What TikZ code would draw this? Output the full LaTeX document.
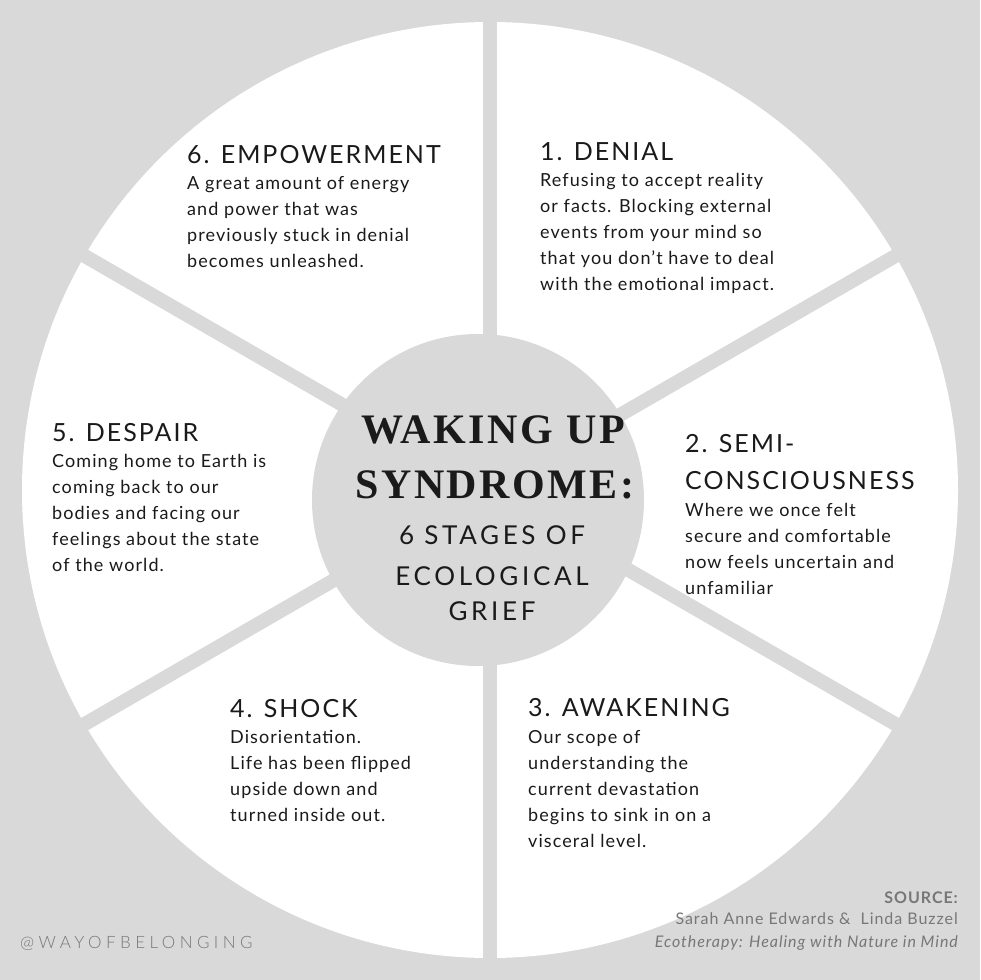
\documentclass[tikz,border=0pt]{standalone}
\usepackage{fontspec}
\setmainfont{Lato}[LetterSpace=6]
\newfontfamily\titlefont[LetterSpace=6]{Liberation Serif}
\newfontfamily\subfont[LetterSpace=14]{Lato}
\newfontfamily\headfont[LetterSpace=8]{Lato}
\newfontfamily\tagfont[LetterSpace=26]{Lato Light}
\definecolor{bg}{HTML}{D9D9D9}
\definecolor{ink}{HTML}{1A1A1A}
\definecolor{src}{HTML}{777777}
\begin{document}
\begin{tikzpicture}[x=1pt,y=-1pt,
  head/.style={anchor=base west,inner sep=0,text=ink,font=\headfont\fontsize{25}{26}\selectfont},
  body/.style={anchor=north west,inner sep=0,text=ink,align=left,font=\fontsize{18}{26}\selectfont},
  gap/.style={draw=bg,line width=14pt}]
\fill[bg] (0,0) rectangle (980,980);
\useasboundingbox (0,0) rectangle (980,980);
\node[circle,fill=white,minimum size=936pt,inner sep=0] (wheel) at (490,490) {};
\coordinate (c) at (490,490);
\foreach \a in {90,30,-30,-90,-150,150}
  \draw[gap] (c) -- ++(\a:-480);
\node[circle,fill=bg,minimum size=332pt,inner sep=0] (hub) at (478,500) {};
% title
\node[anchor=base,inner sep=0,text=ink,font=\titlefont\bfseries\fontsize{42}{42}\selectfont] (t1) at (493,443) {WAKING UP};
\node[anchor=base,inner sep=0,text=ink,font=\titlefont\bfseries\fontsize{42}{42}\selectfont] (t2) at (495,498) {SYNDROME:};
\node[anchor=base,inner sep=0,text=ink,font=\subfont\fontsize{26}{26}\selectfont] (t3) at (492,544) {6 STAGES OF};
\node[anchor=base,inner sep=0,text=ink,font=\subfont\fontsize{26}{26}\selectfont] (t4) at (492,585) {ECOLOGICAL};
\node[anchor=base,inner sep=0,text=ink,font=\subfont\fontsize{26}{26}\selectfont] (t5) at (492,620) {GRIEF};
% sections
\node[head] (h6) at (187,163) {6. EMPOWERMENT};
\node[body] (b6) at (187,176) {A great amount of energy\\and power that was\\previously stuck in denial\\becomes unleashed.};
\node[head] (h1) at (540,160) {1. DENIAL};
\node[body] (b1) at (540,173) {Refusing to accept reality\\or facts. Blocking external\\events from your mind so\\that you don't have to deal\\with the emotional impact.};
\node[head] (h5) at (52,441) {5. DESPAIR};
\node[body] (b5) at (52,454) {Coming home to Earth is\\coming back to our\\bodies and facing our\\feelings about the state\\of the world.};
\node[head] (h2) at (685,452) {2. SEMI-};
\node[head] (h2b) at (685,489) {CONSCIOUSNESS};
\node[body] (b2) at (685,503) {Where we once felt\\secure and comfortable\\now feels uncertain and\\unfamiliar};
\node[head] (h4) at (230,717) {4. SHOCK};
\node[body] (b4) at (230,730) {Disorientation.\\Life has been flipped\\upside down and\\turned inside out.};
\node[head] (h3) at (528,716) {3. AWAKENING};
\node[body] (b3) at (528,730) {Our scope of\\understanding the\\current devastation\\begins to sink in on a\\visceral level.};
% footer
\node[anchor=base west,inner sep=0,text=src,font=\tagfont\fontsize{17}{17}\selectfont] (tag) at (20,948) {@WAYOFBELONGING};
\node[anchor=base east,inner sep=0,text=src,font=\bfseries\fontsize{16}{16}\selectfont] (s1) at (958,903) {SOURCE:};
\node[anchor=base east,inner sep=0,text=src,font=\fontsize{16}{16}\selectfont] (s2) at (958,924) {Sarah Anne Edwards \&\ \ Linda Buzzel};
\node[anchor=base east,inner sep=0,text=src,font=\itshape\fontsize{16}{16}\selectfont] (s3) at (958,947) {Ecotherapy: Healing with Nature in Mind};
\end{tikzpicture}
\end{document}
